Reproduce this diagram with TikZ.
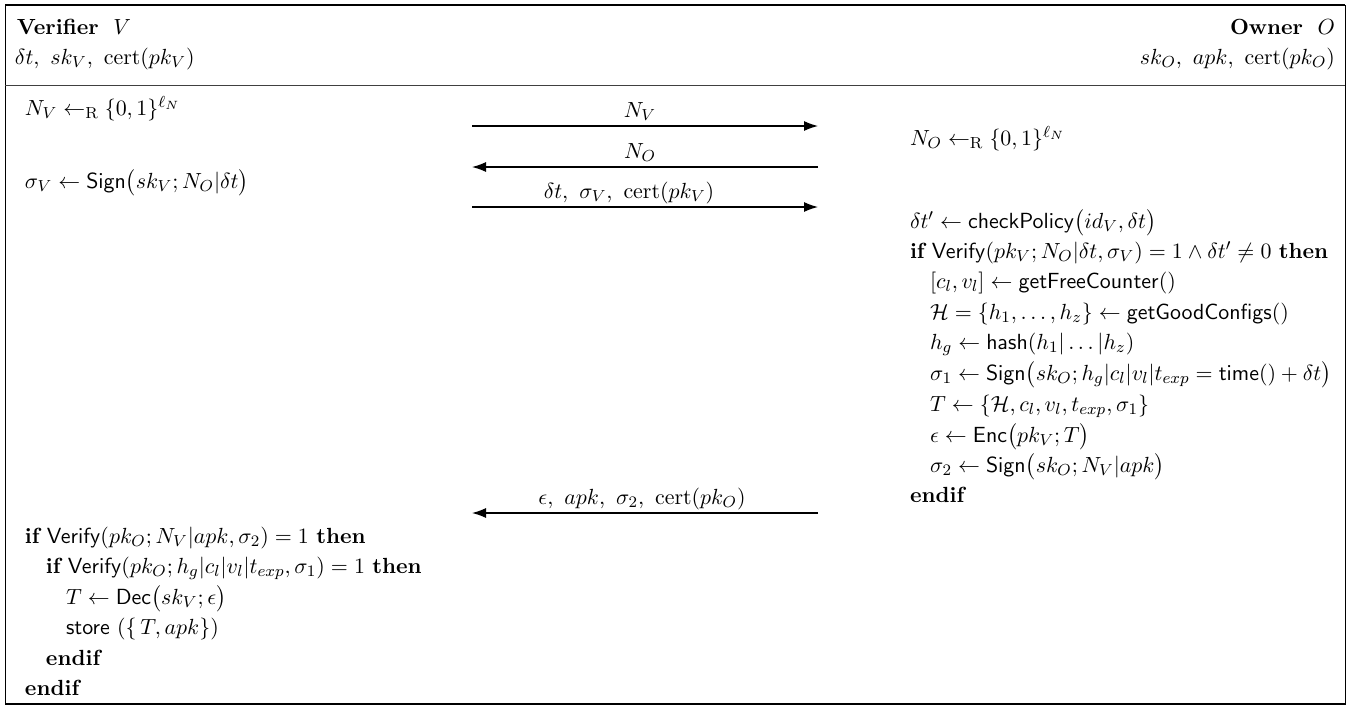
\documentclass[tikz,border=0pt,11pt]{standalone}
\usepackage{amsmath,amssymb}
\usetikzlibrary{arrows.meta}
\newcommand{\sfn}[1]{\mathsf{#1}}
\begin{document}
\begin{tikzpicture}[x=0.5pt,y=-0.5pt,
  txt/.style={inner sep=0pt,outer sep=0pt,anchor=base west},
  txtr/.style={inner sep=0pt,outer sep=0pt,anchor=base east},
  lbl/.style={inner sep=0pt,outer sep=0pt,anchor=base},
  msg/.style={line width=0.6pt,-{Latex[length=7pt,width=5pt]}},
  frame/.style={line width=0.5pt}]
\useasboundingbox (0,0) rectangle (1351,707);
% frame
\draw[frame] (5,5) rectangle (1345,704);
\draw[line width=1pt] (5,5) -- (1345,5);
\draw[line width=1pt] (5,704) -- (1345,704);
\draw[frame,draw=black!75] (5,85) -- (1345,85);
% headers
\node[txt] (vh) at (17,34) {\textbf{Verifier}\ \ $V$};
\node[txt] (vk) at (15,64) {$\delta t,\ sk_V,\ \mathrm{cert}(pk_V)$};
\node[txtr] (oh) at (1335,34) {\textbf{Owner}\ \ $O$};
\node[txtr] (ok) at (1335,64) {$sk_O,\ apk,\ \mathrm{cert}(pk_O)$};
% verifier first part
\node[txt] (v1) at (25,115) {$N_V \leftarrow_{\mathrm{R}} \{0,1\}^{\ell_N}$};
\node[txt] (v2) at (25,188) {$\sigma_V \leftarrow \sfn{Sign}\bigl(sk_V;N_O|\delta t\bigr)$};
% owner
\node[txt] (o1) at (910,145) {$N_O \leftarrow_{\mathrm{R}} \{0,1\}^{\ell_N}$};
\node[txt] (o2) at (910,228) {$\delta t' \leftarrow \sfn{checkPolicy}\bigl(id_V,\delta t\bigr)$};
\node[txt] (o3) at (910,258) {$\textbf{if}\ \sfn{Verify}(pk_V;N_O|\delta t,\sigma_V)=1\wedge\delta t'\neq 0\ \textbf{then}$};
\node[txt] (o4) at (930,288) {$[c_l,v_l]\leftarrow\sfn{getFreeCounter}()$};
\node[txt] (o5) at (930,319) {$\mathcal{H}=\{h_1,\dots,h_z\}\leftarrow\sfn{getGoodConfigs}()$};
\node[txt] (o6) at (930,349) {$h_g\leftarrow\sfn{hash}(h_1|\dots|h_z)$};
\node[txt] (o7) at (930,380) {$\sigma_1\leftarrow\sfn{Sign}\bigl(sk_O;h_g|c_l|v_l|t_{exp}=\sfn{time}()+\delta t\bigr)$};
\node[txt] (o8) at (930,411) {$T\leftarrow\{\mathcal{H},c_l,v_l,t_{exp},\sigma_1\}$};
\node[txt] (o9) at (930,442) {$\epsilon\leftarrow\sfn{Enc}\bigl(pk_V;T\bigr)$};
\node[txt] (o10) at (930,472) {$\sigma_2\leftarrow\sfn{Sign}\bigl(sk_O;N_V|apk\bigr)$};
\node[txt] (o11) at (910,502) {\textbf{endif}};
% verifier last part
\node[txt] (w1) at (25,543) {$\textbf{if}\ \sfn{Verify}(pk_O;N_V|apk,\sigma_2)=1\ \textbf{then}$};
\node[txt] (w2) at (46,573) {$\textbf{if}\ \sfn{Verify}(pk_O;h_g|c_l|v_l|t_{exp},\sigma_1)=1\ \textbf{then}$};
\node[txt] (w3) at (66,604) {$T\leftarrow\sfn{Dec}\bigl(sk_V;\epsilon\bigr)$};
\node[txt] (w4) at (66,634) {$\sfn{store}\ (\{\,T,apk\})$};
\node[txt] (w5) at (46,665) {\textbf{endif}};
\node[txt] (w6) at (25,695) {\textbf{endif}};
% messages
\coordinate (a1l) at (472,126); \coordinate (a1r) at (818,126);
\coordinate (a2l) at (472,167); \coordinate (a2r) at (818,167);
\coordinate (a3l) at (472,207); \coordinate (a3r) at (818,207);
\coordinate (a4l) at (472,513); \coordinate (a4r) at (818,513);
\draw[msg] (a1l) -- (a1r);
\draw[msg] (a2r) -- (a2l);
\draw[msg] (a3l) -- (a3r);
\draw[msg] (a4r) -- (a4l);
\node[lbl] (m1) at (640,117) {$N_V$};
\node[lbl] (m2) at (640,158) {$N_O$};
\node[lbl] (m3) at (629,198) {$\delta t,\ \sigma_V,\ \mathrm{cert}(pk_V)$};
\node[lbl] (m4) at (642,504) {$\epsilon,\ apk,\ \sigma_2,\ \mathrm{cert}(pk_O)$};
\end{tikzpicture}
\end{document}
